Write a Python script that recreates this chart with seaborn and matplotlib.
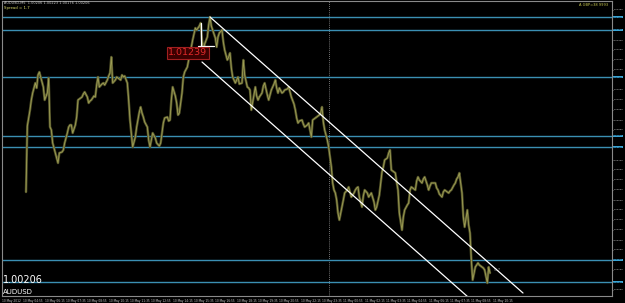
import numpy as np
import pandas as pd
import matplotlib
matplotlib.use("Agg")
import matplotlib.pyplot as plt
import seaborn as sns

# ---------------- data ----------------
bars = [18, 19, 20, 21, 22, 23, 25, 26, 27, 28, 29, 30, 31, 32, 34, 35, 36, 37, 38, 40,
        41, 42, 43, 45, 46, 47, 49, 50, 51, 52, 53, 55, 56, 57, 59, 60, 61, 62, 64, 65,
        66, 67, 69, 70, 71, 72, 73, 75, 76, 77, 79, 80, 81, 82, 83, 85, 86, 88, 89, 90,
        91, 92, 94, 95, 96, 97, 98, 100, 101, 103, 104, 105, 106, 107, 109, 110, 111, 112, 113, 115,
        116, 118, 119, 120, 121, 122, 124, 125, 126, 127, 128, 130, 131, 132, 133, 135, 136, 137, 139, 140,
        141, 142, 143, 145, 146, 148, 149, 150, 151, 152, 154, 155, 156, 157, 158, 160, 161, 162, 163, 165,
        166, 167, 169, 170, 171, 172, 173, 175, 176, 177, 178, 180, 181, 182, 184, 185, 186, 187, 189, 190,
        191, 192, 193, 195, 196, 197, 199, 200, 201, 202, 204, 205, 206, 207, 208, 210, 211, 212, 214, 215,
        216, 217, 219, 220, 221, 222, 223, 225, 226, 227, 229, 230, 231, 232, 233, 235, 236, 238, 239, 240,
        241, 242, 244, 245, 247, 248, 249, 250, 251, 252, 253, 255, 256, 257, 259, 260, 261, 262, 264, 265,
        266, 267, 268, 270, 271, 272, 274, 275, 276, 277, 279, 280, 281, 283, 284, 285, 286, 287, 289, 290,
        291, 292, 294, 295, 296, 297, 298, 300, 301, 302, 304, 305, 306, 307, 309, 310, 311, 312, 313, 315,
        316, 317, 319, 320, 321, 322, 324, 325, 326, 327, 328, 330, 331, 332, 334, 335, 336, 337, 339, 340,
        341, 342, 343, 345, 346, 347, 349, 350, 351, 352, 353, 355, 356, 357, 358, 360, 361, 362, 364, 365,
        366]
prices = [1.00540, 1.00870, 1.00910, 1.00950, 1.01000, 1.01035, 1.01085, 1.01060, 1.01125, 1.01140,
          1.01115, 1.01090, 1.01065, 1.01000, 1.01035, 1.01110, 1.00865, 1.00850, 1.00785, 1.00735,
          1.00710, 1.00685, 1.00735, 1.00740, 1.00750, 1.00785, 1.00835, 1.00865, 1.00875, 1.00875,
          1.00835, 1.00875, 1.00915, 1.01000, 1.01010, 1.01015, 1.01030, 1.01040, 1.01015, 1.00985,
          1.00995, 1.01000, 1.01020, 1.01015, 1.01075, 1.01115, 1.01065, 1.01080, 1.01085, 1.01075,
          1.01100, 1.01120, 1.01135, 1.01215, 1.01085, 1.01100, 1.01115, 1.01105, 1.01100, 1.01125,
          1.01115, 1.01120, 1.01085, 1.01000, 1.00900, 1.00835, 1.00765, 1.00815, 1.00865, 1.00940,
          1.00965, 1.00935, 1.00915, 1.00890, 1.00865, 1.00800, 1.00765, 1.00800, 1.00835, 1.00810,
          1.00785, 1.00770, 1.00785, 1.00835, 1.00885, 1.00910, 1.00915, 1.00895, 1.00900, 1.01000,
          1.01065, 1.01020, 1.00985, 1.00925, 1.00935, 1.01035, 1.01115, 1.01140, 1.01165, 1.01200,
          1.01210, 1.01265, 1.01300, 1.01360, 1.01350, 1.01370, 1.01385, 1.01300, 1.01250, 1.01280,
          1.01315, 1.01375, 1.01415, 1.01370, 1.01350, 1.01310, 1.01265, 1.01315, 1.01335, 1.01350,
          1.01290, 1.01250, 1.01200, 1.01215, 1.01235, 1.01160, 1.01115, 1.01085, 1.01100, 1.01115,
          1.01080, 1.01085, 1.01200, 1.01125, 1.01065, 1.01060, 1.01050, 1.00950, 1.01025, 1.01065,
          1.01020, 1.01000, 1.01015, 1.01035, 1.01070, 1.01085, 1.01025, 1.01000, 1.01025, 1.01050,
          1.01080, 1.01100, 1.01060, 1.01035, 1.01060, 1.01035, 1.01040, 1.01050, 1.01055, 1.01065,
          1.01040, 1.01015, 1.00980, 1.00950, 1.00910, 1.00885, 1.00895, 1.00900, 1.00880, 1.00865,
          1.00875, 1.00885, 1.00850, 1.00815, 1.00900, 1.00910, 1.00915, 1.00925, 1.00935, 1.00965,
          1.00890, 1.00850, 1.00800, 1.00765, 1.00665, 1.00585, 1.00550, 1.00535, 1.00500, 1.00435,
          1.00400, 1.00465, 1.00500, 1.00535, 1.00550, 1.00565, 1.00540, 1.00515, 1.00535, 1.00550,
          1.00560, 1.00565, 1.00515, 1.00465, 1.00520, 1.00550, 1.00535, 1.00515, 1.00525, 1.00535,
          1.00490, 1.00450, 1.00465, 1.00525, 1.00585, 1.00640, 1.00665, 1.00700, 1.00710, 1.00735,
          1.00750, 1.00650, 1.00640, 1.00635, 1.00590, 1.00550, 1.00435, 1.00350, 1.00415, 1.00450,
          1.00475, 1.00485, 1.00550, 1.00565, 1.00555, 1.00550, 1.00595, 1.00615, 1.00600, 1.00585,
          1.00605, 1.00615, 1.00575, 1.00550, 1.00570, 1.00585, 1.00585, 1.00585, 1.00560, 1.00550,
          1.00530, 1.00515, 1.00540, 1.00550, 1.00540, 1.00535, 1.00545, 1.00550, 1.00575, 1.00585,
          1.00605, 1.00615, 1.00635, 1.00535, 1.00415, 1.00365, 1.00450, 1.00375, 1.00335, 1.00200,
          1.00100, 1.00165, 1.00175, 1.00185, 1.00175, 1.00165, 1.00160, 1.00150, 1.00085, 1.00165,
          1.00135]

level_prices = [1.01415, 1.01350, 1.01115, 1.00820, 1.00765, 1.00200, 1.00090]

upper_channel_bars = [156, 390.75]
upper_channel_prices = [1.01415, 1.00035]
lower_channel_bars = [150, 349.5]
lower_channel_prices = [1.01190, 1.00015]

mark_v_bars = [149.25, 149.25]
mark_v_prices = [1.01385, 1.01270]
mark_h_bars = [147, 159]
mark_h_prices = [1.01270, 1.01270]

separator_bar = 245

time_tick_bars = [0, 16, 32, 48, 64, 80, 96, 112, 128, 144, 160, 176, 192, 208, 224, 240,
                  256, 272, 288, 304, 320, 336, 352, 368]
time_tick_labels = ["10 May 2012", "10 May 04:55", "10 May 06:15", "10 May 07:35", "10 May 08:55",
                    "10 May 10:15", "10 May 11:35", "10 May 12:55", "10 May 14:15", "10 May 15:35",
                    "10 May 16:55", "10 May 18:15", "10 May 19:35", "10 May 20:55", "10 May 22:15",
                    "10 May 23:35", "11 May 00:55", "11 May 02:15", "11 May 03:35", "11 May 04:55",
                    "11 May 06:15", "11 May 07:35", "11 May 08:55", "11 May 10:15"]

price_ticks = [1.0005, 1.0010, 1.0015, 1.0020, 1.0025, 1.0030, 1.0035, 1.0040, 1.0045, 1.0050,
               1.0055, 1.0060, 1.0065, 1.0070, 1.0075, 1.0080, 1.0085, 1.0090, 1.0095, 1.0100,
               1.0105, 1.0110, 1.0115, 1.0120, 1.0125, 1.0130, 1.0135, 1.0140, 1.0145]

label_price = "1.01239"
label_price_value = 1.01237
label_bar = 124.5
current_bid = "1.00206"
symbol = "AUDUSD"

# ---------------- figure ----------------
sns.set_style("dark")
plt.rcParams["font.family"] = ["DejaVu Sans"]

W, H = 625, 303
fig = plt.figure(figsize=(W / 100, H / 100), dpi=100, facecolor="black")
ax = fig.add_axes([2 / W, 7 / H, 610 / W, 295 / H])
ax.set_facecolor("black")

df = pd.DataFrame({"bar": bars, "price": prices})
sns.lineplot(data=df, x="bar", y="price", ax=ax, color="#55552a", linewidth=1.8,
             estimator=None, sort=False, zorder=3)
sns.lineplot(data=df, x="bar", y="price", ax=ax, color="#9f9f55", linewidth=0.6,
             estimator=None, sort=False, zorder=4)

for lv in level_prices:
    ax.axhline(lv, color="#3b8fb3", linewidth=1.0, zorder=2)

ax.axvline(separator_bar, color="#9a9a9a", linewidth=0.6, linestyle=(0, (1, 1.5)), zorder=1)

ax.plot(upper_channel_bars, upper_channel_prices, color="white", linewidth=0.9, zorder=5)
ax.plot(lower_channel_bars, lower_channel_prices, color="white", linewidth=0.9, zorder=5)
ax.plot(mark_v_bars, mark_v_prices, color="white", linewidth=0.9, zorder=5)
ax.plot(mark_h_bars, mark_h_prices, color="white", linewidth=0.9, zorder=5)

ax.text(label_bar, label_price_value, label_price, color="#e02a2a", fontsize=6.8,
        ha="left", va="center", zorder=6,
        bbox=dict(boxstyle="square,pad=0.15", facecolor="#3c0000", edgecolor="#a02020", linewidth=0.8))

ax.set_xlim(0, 457.5)
ax.set_ylim(1.00020, 1.01495)

ax.set_xticks(time_tick_bars)
ax.set_xticklabels(time_tick_labels)
shown_ticks = [p for p in price_ticks if min(abs(p - lv) for lv in level_prices) > 0.00028]
ax.set_yticks(shown_ticks)
ax.set_yticklabels([f"{p:.5f}" for p in shown_ticks])
ax.yaxis.tick_right()
ax.tick_params(axis="x", labelsize=2.1, labelcolor="#d0d0d0", color="#909090",
               length=1.5, width=0.5, pad=0.5, direction="out")
for lab in ax.get_xticklabels():
    lab.set_horizontalalignment("left")
ax.tick_params(axis="y", labelsize=1.75, labelcolor="#d0d0d0", color="#909090",
               length=1.0, width=0.5, pad=0.3, direction="out")
ax.set_xlabel("")
ax.set_ylabel("")
ax.grid(False)
for s in ax.spines.values():
    s.set_visible(True)
    s.set_color("#8a8a8a")
    s.set_linewidth(0.8)

# price-scale tags for horizontal lines
for lv in level_prices:
    ax.annotate(f"{lv:.5f}", xy=(1.0, lv), xycoords=("axes fraction", "data"),
                xytext=(0.8, 0), textcoords="offset points", fontsize=1.75, color="black",
                ha="left", va="center", zorder=7, annotation_clip=False,
                bbox=dict(boxstyle="square,pad=0.1", facecolor="#3aa5d6", edgecolor="none"))

# texts
fig.text(4 / W, 1 - 3.5 / H, "AUDUSD,M5  1.00206 1.00223 1.00176 1.00206", color="#c8c8c8",
         fontsize=2.5, ha="left", va="center")
fig.text(4 / W, 1 - 8 / H, "Spread = 1.7", color="#e0e070", fontsize=2.8,
         ha="left", va="center")
fig.text(608 / W, 1 - 5 / H, "A GBP=38 9993", color="#c8c850", fontsize=2.6,
         ha="right", va="center")
fig.text(3 / W, 1 - 280 / H, current_bid, color="white", fontsize=7, ha="left", va="center")
fig.text(3 / W, 1 - 291.5 / H, symbol, color="white", fontsize=5, ha="left", va="center")
ax.text(364 + 5, 1.00150, "-0.7", color="#9a9a9a", fontsize=2.6, ha="left", va="center")

fig.savefig("out.png", dpi=100, facecolor="black")
